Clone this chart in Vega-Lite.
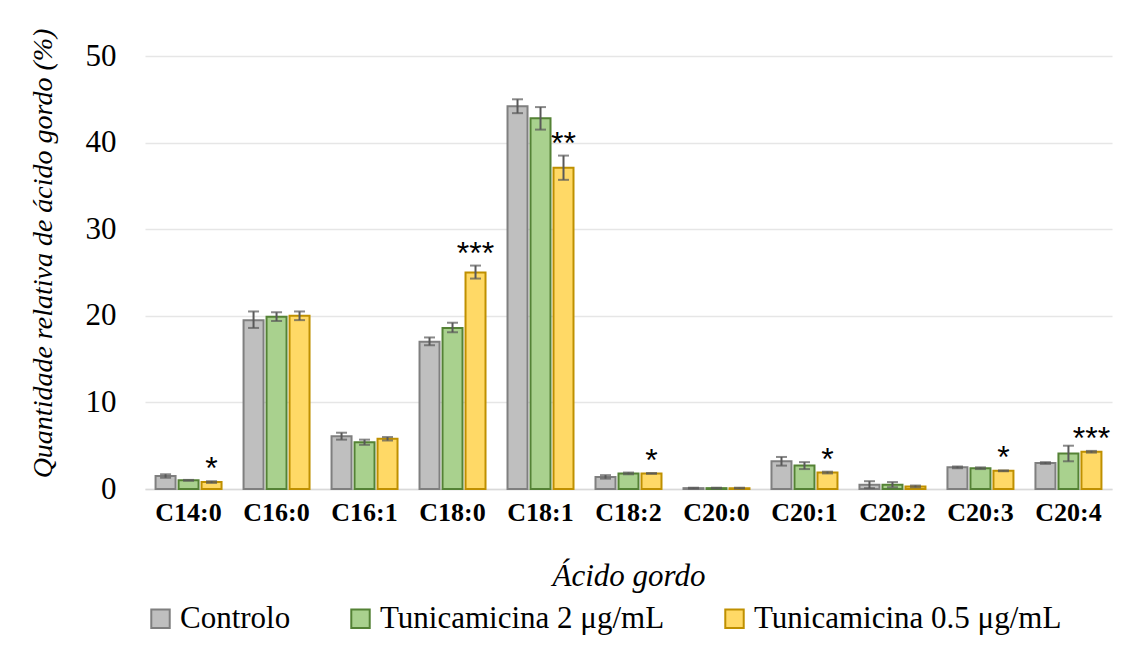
{
  "$schema": "https://vega.github.io/schema/vega-lite/v6.json",
  "width": 967,
  "height": 433,
  "autosize": {"type": "none"},
  "padding": {"left": 145, "top": 56, "right": 20, "bottom": 165},
  "background": "white",
  "config": {
    "font": "Liberation Serif",
    "view": {"stroke": null},
    "axis": {"labelFont": "Liberation Serif", "titleFont": "Liberation Serif"},
    "legend": {"labelFont": "Liberation Serif", "labelLimit": 500}
  },
  "data": {
    "values": [
      {"fa": "C14:0", "grp": "Controlo", "v": 1.5, "lo": 1.3, "hi": 1.7, "sig": ""},
      {"fa": "C14:0", "grp": "Tunicamicina 2 μg/mL", "v": 1.0, "lo": 0.95, "hi": 1.05, "sig": ""},
      {"fa": "C14:0", "grp": "Tunicamicina 0.5 μg/mL", "v": 0.8, "lo": 0.7, "hi": 0.9, "sig": "*"},
      {"fa": "C16:0", "grp": "Controlo", "v": 19.5, "lo": 18.6, "hi": 20.5, "sig": ""},
      {"fa": "C16:0", "grp": "Tunicamicina 2 μg/mL", "v": 19.9, "lo": 19.4, "hi": 20.4, "sig": ""},
      {"fa": "C16:0", "grp": "Tunicamicina 0.5 μg/mL", "v": 20.0, "lo": 19.5, "hi": 20.5, "sig": ""},
      {"fa": "C16:1", "grp": "Controlo", "v": 6.1, "lo": 5.7, "hi": 6.5, "sig": ""},
      {"fa": "C16:1", "grp": "Tunicamicina 2 μg/mL", "v": 5.4, "lo": 5.1, "hi": 5.7, "sig": ""},
      {"fa": "C16:1", "grp": "Tunicamicina 0.5 μg/mL", "v": 5.8, "lo": 5.6, "hi": 6.0, "sig": ""},
      {"fa": "C18:0", "grp": "Controlo", "v": 17.0, "lo": 16.6, "hi": 17.5, "sig": ""},
      {"fa": "C18:0", "grp": "Tunicamicina 2 μg/mL", "v": 18.6, "lo": 18.1, "hi": 19.2, "sig": ""},
      {"fa": "C18:0", "grp": "Tunicamicina 0.5 μg/mL", "v": 25.0, "lo": 24.3, "hi": 25.8, "sig": "***"},
      {"fa": "C18:1", "grp": "Controlo", "v": 44.2, "lo": 43.4, "hi": 45.0, "sig": ""},
      {"fa": "C18:1", "grp": "Tunicamicina 2 μg/mL", "v": 42.8, "lo": 41.5, "hi": 44.1, "sig": ""},
      {"fa": "C18:1", "grp": "Tunicamicina 0.5 μg/mL", "v": 37.1, "lo": 35.7, "hi": 38.5, "sig": "**"},
      {"fa": "C18:2", "grp": "Controlo", "v": 1.4, "lo": 1.2, "hi": 1.6, "sig": ""},
      {"fa": "C18:2", "grp": "Tunicamicina 2 μg/mL", "v": 1.8, "lo": 1.7, "hi": 1.9, "sig": ""},
      {"fa": "C18:2", "grp": "Tunicamicina 0.5 μg/mL", "v": 1.8, "lo": 1.75, "hi": 1.85, "sig": "*"},
      {"fa": "C20:0", "grp": "Controlo", "v": 0.1, "lo": 0.05, "hi": 0.15, "sig": ""},
      {"fa": "C20:0", "grp": "Tunicamicina 2 μg/mL", "v": 0.1, "lo": 0.05, "hi": 0.15, "sig": ""},
      {"fa": "C20:0", "grp": "Tunicamicina 0.5 μg/mL", "v": 0.1, "lo": 0.05, "hi": 0.15, "sig": ""},
      {"fa": "C20:1", "grp": "Controlo", "v": 3.2, "lo": 2.7, "hi": 3.7, "sig": ""},
      {"fa": "C20:1", "grp": "Tunicamicina 2 μg/mL", "v": 2.7, "lo": 2.3, "hi": 3.1, "sig": ""},
      {"fa": "C20:1", "grp": "Tunicamicina 0.5 μg/mL", "v": 1.9, "lo": 1.8, "hi": 2.0, "sig": "*"},
      {"fa": "C20:2", "grp": "Controlo", "v": 0.5, "lo": 0.1, "hi": 0.9, "sig": ""},
      {"fa": "C20:2", "grp": "Tunicamicina 2 μg/mL", "v": 0.5, "lo": 0.2, "hi": 0.8, "sig": ""},
      {"fa": "C20:2", "grp": "Tunicamicina 0.5 μg/mL", "v": 0.3, "lo": 0.2, "hi": 0.4, "sig": ""},
      {"fa": "C20:3", "grp": "Controlo", "v": 2.5, "lo": 2.4, "hi": 2.6, "sig": ""},
      {"fa": "C20:3", "grp": "Tunicamicina 2 μg/mL", "v": 2.4, "lo": 2.3, "hi": 2.5, "sig": ""},
      {"fa": "C20:3", "grp": "Tunicamicina 0.5 μg/mL", "v": 2.1, "lo": 2.05, "hi": 2.15, "sig": "*"},
      {"fa": "C20:4", "grp": "Controlo", "v": 3.0, "lo": 2.9, "hi": 3.1, "sig": ""},
      {"fa": "C20:4", "grp": "Tunicamicina 2 μg/mL", "v": 4.1, "lo": 3.2, "hi": 5.0, "sig": ""},
      {"fa": "C20:4", "grp": "Tunicamicina 0.5 μg/mL", "v": 4.3, "lo": 4.2, "hi": 4.4, "sig": "***"}
    ]
  },
  "encoding": {
    "x": {
      "field": "fa", "type": "nominal", "sort": null,
      "scale": {"paddingInner": 0.25, "paddingOuter": 0.12},
      "axis": {
        "title": "Ácido gordo", "titleFont": "Liberation Serif", "titleFontStyle": "italic",
        "titleFontWeight": "normal", "titleFontSize": 31, "titleColor": "#000000", "titlePadding": 36,
        "labelAngle": 0, "labelFont": "Liberation Serif", "labelFontWeight": "bold", "labelFontSize": 26,
        "labelColor": "#000000", "labelPadding": 10, "ticks": false,
        "domainColor": "#D9D9D9", "domainWidth": 1.5, "grid": false
      }
    },
    "xOffset": {
      "field": "grp", "type": "nominal",
      "scale": {"domain": ["Controlo", "Tunicamicina 2 μg/mL", "Tunicamicina 0.5 μg/mL"], "paddingInner": 0.13, "paddingOuter": 0}
    }
  },
  "layer": [
    {
      "mark": {"type": "bar", "strokeWidth": 2},
      "encoding": {
        "y": {
          "field": "v", "type": "quantitative",
          "scale": {"domain": [0, 50], "nice": false},
          "axis": {
            "title": "Quantidade relativa de ácido gordo (%)", "titleFont": "Liberation Serif",
            "titleFontStyle": "italic", "titleFontWeight": "normal", "titleFontSize": 28, "titleColor": "#000000",
            "titlePadding": 28, "titleY": 197, "values": [0, 10, 20, 30, 40, 50],
            "labelFont": "Liberation Serif", "labelFontSize": 31, "labelColor": "#000000", "labelPadding": 29,
            "ticks": false, "domain": false, "grid": true, "gridColor": "#E6E6E6", "gridWidth": 1.5
          }
        },
        "fill": {
          "field": "grp", "type": "nominal",
          "scale": {"domain": ["Controlo", "Tunicamicina 2 μg/mL", "Tunicamicina 0.5 μg/mL"], "range": ["#BFBFBF", "#A9D18E", "#FFD966"]},
          "legend": {
            "title": null, "orient": "bottom", "direction": "horizontal", "offset": 12, "padding": 0,
            "labelFont": "Liberation Serif", "labelFontSize": 31, "labelColor": "#000000", "labelLimit": 500,
            "symbolType": "square", "symbolSize": 340, "symbolStrokeWidth": 2, "columnPadding": 54, "labelOffset": 4
          }
        },
        "stroke": {
          "field": "grp", "type": "nominal",
          "scale": {"domain": ["Controlo", "Tunicamicina 2 μg/mL", "Tunicamicina 0.5 μg/mL"], "range": ["#7F7F7F", "#548235", "#BF9000"]},
          "legend": {
            "title": null, "orient": "bottom", "direction": "horizontal", "offset": 12, "padding": 0,
            "labelFont": "Liberation Serif", "labelFontSize": 31, "labelColor": "#000000", "labelLimit": 500,
            "symbolType": "square", "symbolSize": 340, "symbolStrokeWidth": 2, "columnPadding": 54, "labelOffset": 4
          }
        }
      }
    },
    {
      "mark": {"type": "rule", "color": "#595959", "strokeWidth": 2},
      "encoding": {
        "y": {"field": "lo", "type": "quantitative"},
        "y2": {"field": "hi"}
      }
    },
    {
      "mark": {"type": "tick", "color": "#595959", "thickness": 2, "size": 11, "orient": "horizontal"},
      "encoding": {"y": {"field": "lo", "type": "quantitative"}}
    },
    {
      "mark": {"type": "tick", "color": "#595959", "thickness": 2, "size": 11, "orient": "horizontal"},
      "encoding": {"y": {"field": "hi", "type": "quantitative"}}
    },
    {
      "mark": {"type": "text", "font": "Liberation Sans", "fontSize": 32, "baseline": "alphabetic", "dy": -2, "color": "#000000"},
      "encoding": {
        "y": {"field": "hi", "type": "quantitative"},
        "text": {"field": "sig"}
      }
    }
  ]
}
